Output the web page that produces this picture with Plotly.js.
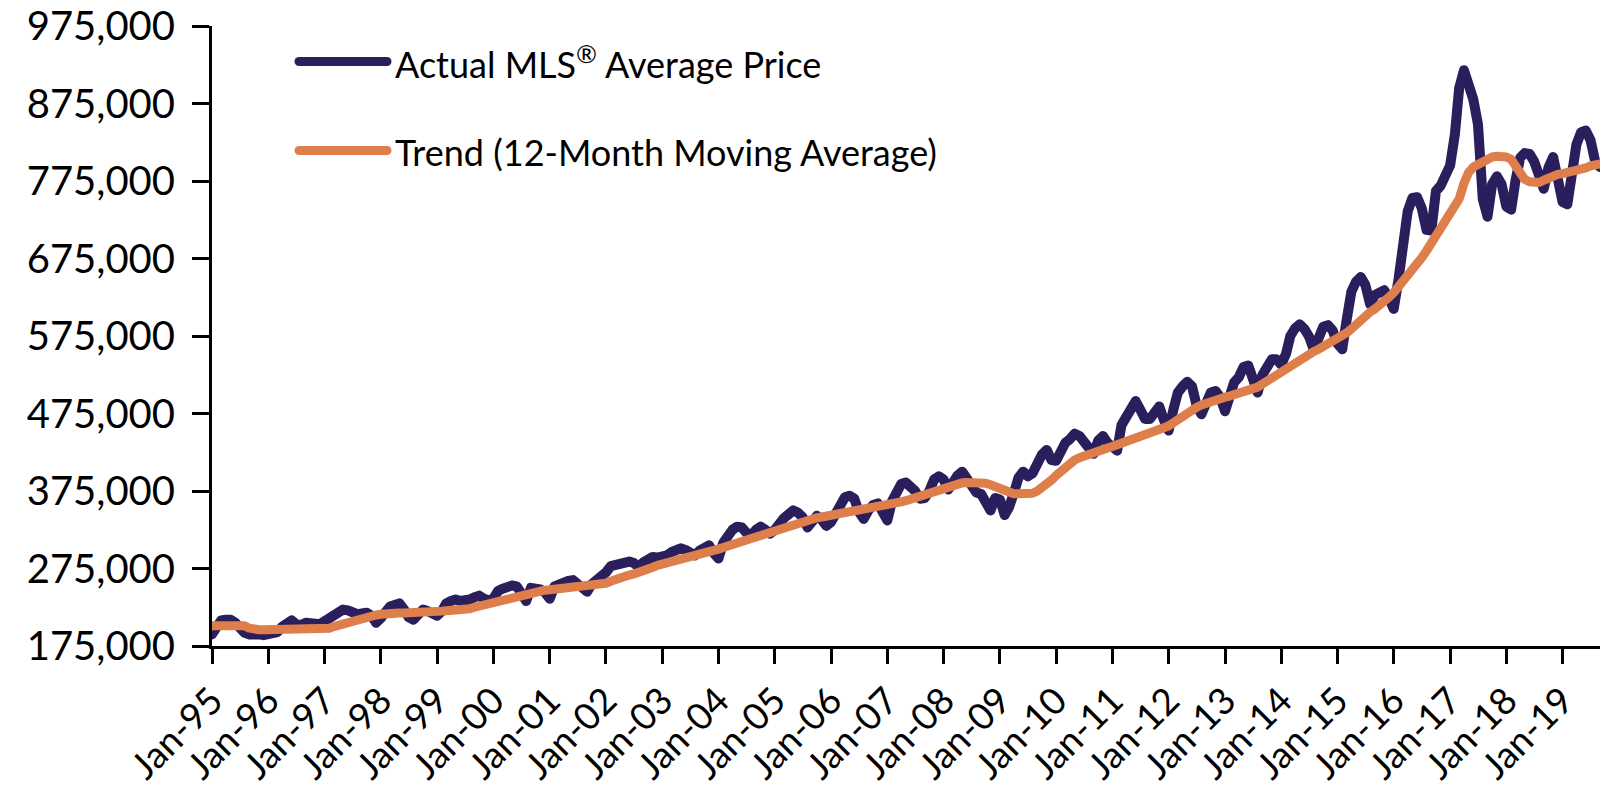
<!DOCTYPE html>
<html>
<head>
<meta charset="utf-8">
<script src="https://cdn.plot.ly/plotly-3.0.1.min.js"></script>
<style>
html,body{margin:0;padding:0;background:#fff;}
#chart{width:1608px;height:796px;}
.js-line{stroke-linejoin:round;stroke-linecap:round;}
.shapelayer path{stroke-linecap:round;}
</style>
</head>
<body>
<div id="chart"></div>
<script>
// Monthly series, Jan 1995 .. Sep 2019 (values in thousands of dollars)
const START_YEAR = 1995;

const actualPriceK = [
  190,200,208,209,209,205,196,192,190,191,190,189,   // 1995
  190,191,193,200,206,208,203,202,205,204,202,203,   // 1996
  207,210,216,219,222,221,217,216,217,218,214,205,   // 1997
  211,218,226,228,230,222,212,209,215,222,220,217,   // 1998
  214,220,230,233,235,233,233,235,238,240,236,234,   // 1999
  236,246,249,252,253,252,243,233,250,250,248,244,   // 2000
  236,252,255,256,259,260,256,250,245,255,260,263,   // 2001
  270,278,280,282,283,284,282,277,283,286,290,289,   // 2002
  289,292,296,299,301,299,295,292,298,302,305,295,   // 2003
  288,308,318,325,329,328,321,318,325,329,325,320,   // 2004
  325,334,340,345,350,347,341,328,334,343,338,330,   // 2005
  335,348,358,367,369,365,348,339,350,357,359,345,   // 2006
  337,362,374,384,386,381,375,365,366,375,390,394,   // 2007
  390,377,387,395,400,392,381,373,371,360,350,366,   // 2008
  364,344,354,372,392,400,394,398,412,422,428,415,   // 2009
  414,428,437,442,449,446,439,428,423,440,446,437,   // 2010
  432,427,460,470,484,491,480,468,468,478,484,467,   // 2011
  453,480,502,510,516,510,485,474,492,502,504,496,   // 2012
  478,500,515,522,535,537,516,502,525,535,545,545,   // 2013
  538,552,575,585,590,584,574,557,573,587,589,582,   // 2014
  565,558,595,632,645,651,641,616,628,632,634,624,   // 2015
  610,648,700,736,753,754,740,712,711,762,769,779,   // 2016
  795,835,895,918,903,880,848,752,729,771,781,771,   // 2017
  742,738,775,805,811,810,800,780,765,792,806,778,   // 2018
  748,745,782,822,838,840,828,800,793               // 2019
];

const trendPriceK = [
  201,201,201,201,201,201,201,201,198,196,196,196,
  196,196,196,196,196,196,196,196,196,196,197,197,
  197,198,200,202,204,206,207.5,209,210.5,212,214,215,
  216,217,217,217.5,217.5,217.5,217.5,217.5,217.5,218,218,219.5,
  220,220,220.5,220.5,221,221,221.5,223,225,226.5,228,230,
  232,234,236,237.5,239,240,241.5,243,244,245,246,247,
  247.5,248,248.5,249,250,250.5,251,251.5,252,253,253.5,254,
  256,258.5,261,263,265,266.5,268,269.5,271.5,274,276.5,279,
  280.5,281.5,282.5,284,285.5,287,288.5,290.5,292,293.5,295.5,297.5,
  300,302,303.5,305.5,307,309,312,314,315.5,317.5,319.5,321.5,
  324,326.5,329,331,333,335,336.5,338,339,340.5,341.5,342.5,
  343.5,344.5,345.5,347,348.5,349.5,351,352,353,354.5,355.5,356.5,
  357.5,358.5,359.5,361,362.5,364.5,366.5,368.5,370.5,372.5,374.5,377,
  379.5,382,383.5,384.5,385.5,386,386.3,386.3,386,385,383,380.5,
  377,374.5,372.5,371.5,371.5,371.5,371.5,372,375,379,384,389,
  395,401,406,411,415,418,420.5,422.5,424.5,426.5,428.5,430.5,
  432.5,434.5,436.5,438.5,441,443.5,445.5,447.5,449.5,451.5,453.5,456,
  459,463,467.5,472,476,480,483,486,488.5,490.5,492.5,494.5,
  496,497.5,499,500.5,502.5,504,506,509,513,517,521,525,
  529,533,537.5,541.5,545,548.5,552,555,558,561,564,567,
  570,574,579,584,590,596,601,606,610,614,619,625,
  631,638,646,654,661,668,676,685,695,704,712,722,
  732,742,752,772,786,793,797,800,803,806,807,807,
  806,803,796,786,777,774,773,773,776,779,781,783.5,
  784.5,785.5,786.5,787.5,789,792,794.5,795.5,797
];

const tickDates = ['1995-01-01','1996-01-01','1997-01-01','1998-01-01','1999-01-01','2000-01-01',
  '2001-01-01','2002-01-01','2003-01-01','2004-01-01','2005-01-01','2006-01-01','2007-01-01',
  '2008-01-01','2009-01-01','2010-01-01','2011-01-01','2012-01-01','2013-01-01','2014-01-01',
  '2015-01-01','2016-01-01','2017-01-01','2018-01-01','2019-01-01'];
const tickLabels = ['Jan-95','Jan-96','Jan-97','Jan-98','Jan-99','Jan-00','Jan-01','Jan-02','Jan-03',
  'Jan-04','Jan-05','Jan-06','Jan-07','Jan-08','Jan-09','Jan-10','Jan-11','Jan-12','Jan-13',
  'Jan-14','Jan-15','Jan-16','Jan-17','Jan-18','Jan-19'];
const yTickValues = [175000,275000,375000,475000,575000,675000,775000,875000,975000];

const seriesNames = ['Actual MLS\u00AE Average Price', 'Trend (12-Month Moving Average)'];
const legendLabels = ['Actual MLS<sup>\u00AE</sup> Average Price', 'Trend (12-Month Moving Average)'];
const seriesColors = ['#2a1e5c', '#dd7e4b'];

// month categories
const months = actualPriceK.map((_, i) => {
  const y = START_YEAR + Math.floor(i / 12);
  const m = (i % 12) + 1;
  return y + '-' + (m < 10 ? '0' + m : m) + '-01';
});

const traces = [
  {x: months, y: actualPriceK.map(v => v * 1000), type: 'scatter', mode: 'lines',
   name: seriesNames[0], line: {color: seriesColors[0], width: 10}},
  {x: months, y: trendPriceK.map(v => v * 1000), type: 'scatter', mode: 'lines',
   name: seriesNames[1], line: {color: seriesColors[1], width: 9}}
];

const L = 212, R = 8, T = 26, B = 150, W = 1608, H = 796;
const pw = W - L - R, ph = H - T - B;
const px = v => (v - L) / pw;
const py = v => (H - B - v) / ph;

const legendRows = [61.5, 150.5];
const shapes = legendRows.map((yy, i) => ({
  type: 'line', xref: 'paper', yref: 'paper',
  x0: px(299), x1: px(387), y0: py(yy), y1: py(yy),
  line: {color: seriesColors[i], width: 9}
}));
const annotations = legendRows.map((yy, i) => ({
  xref: 'paper', yref: 'paper', x: px(393), y: py(yy + 1),
  xanchor: 'left', yanchor: 'middle', showarrow: false,
  text: legendLabels[i], font: {size: 36, color: '#000', family: 'Lato, sans-serif'}
}));

const layout = {
  width: W, height: H,
  margin: {l: L, r: R, t: T, b: B, pad: 0},
  paper_bgcolor: '#fff', plot_bgcolor: '#fff',
  showlegend: false,
  font: {family: 'Lato, sans-serif', color: '#000'},
  xaxis: {
    type: 'date', range: [months[0], months[months.length - 1]],
    tickmode: 'array', tickvals: tickDates, ticktext: tickLabels, tickangle: -45,
    ticks: 'outside', ticklen: 15, tickwidth: 3, tickcolor: '#000',
    showline: true, linewidth: 3, linecolor: '#000',
    showgrid: false, zeroline: false,
    ticklabeloverflow: 'allow',
    tickfont: {size: 37, color: '#000'}
  },
  yaxis: {
    range: [175000, 975000.5],
    tickmode: 'array', tickvals: yTickValues, tickformat: ',d',
    ticks: 'outside', ticklen: 17, tickwidth: 3, tickcolor: '#000',
    showline: true, linewidth: 3, linecolor: '#000',
    showgrid: false, zeroline: false,
    ticklabelstandoff: 9,
    ticklabeloverflow: 'allow',
    tickfont: {size: 40, color: '#000'}
  },
  shapes: shapes,
  annotations: annotations
};

Plotly.newPlot('chart', traces, layout, {displayModeBar: false, staticPlot: true});
</script>
</body>
</html>
